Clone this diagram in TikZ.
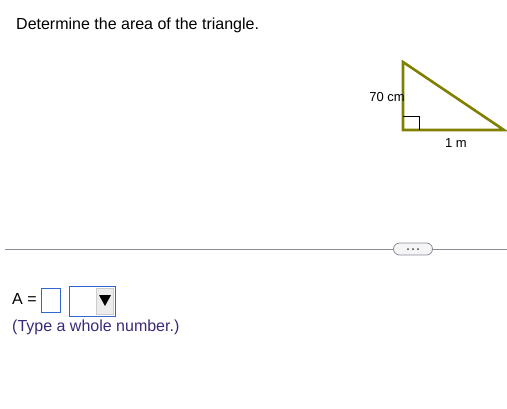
\documentclass[tikz,border=0pt]{standalone}
\usepackage{fontspec}
\setmainfont{Liberation Sans}
\definecolor{olivegreen}{RGB}{128,128,0}
\definecolor{rulegray}{RGB}{138,141,153}
\definecolor{boxblue}{RGB}{51,102,204}
\definecolor{hintpurple}{RGB}{60,40,120}
\begin{document}
\begin{tikzpicture}[x=1pt,y=-1pt,
    every node/.style={inner sep=0pt, font=\fontsize{16}{19}\selectfont},
    side/.style={draw=olivegreen, line width=2.6pt, line join=miter},
    answerbox/.style={draw=boxblue, line width=0.8pt, fill=white}]
            \useasboundingbox (0,0) rectangle (507,408);

            \node[anchor=west] (title) at (16,25) {Determine the area of the triangle.};

            \coordinate (top) at (403,62);
            \coordinate (corner) at (403,130);
            \coordinate (right) at (504,130);
            \draw[side] (top) -- (corner) -- (right) -- cycle;
            \draw[line width=0.8pt] ([yshift=14pt]corner) -| ([xshift=16pt]corner);
            \node[anchor=east, font=\fontsize{13}{15}\selectfont] (height) at (405,97) {70 cm};
            \node[font=\fontsize{13}{15}\selectfont] (base) at (456,143) {1 m};

            \coordinate (rulestart) at (5,249);
            \coordinate (ruleend) at (507,249);
            \node[draw=rulegray, fill=gray!8, rounded corners=6pt, line width=0.8pt,
                  minimum width=39pt, minimum height=12pt] (more) at (413,249) {};
            \draw[rulegray, line width=0.8pt] (rulestart) -- (more.west);
            \draw[rulegray, line width=0.8pt] (more.east) -- (ruleend);
            \foreach \dx in {-5,0,5}
                \fill[black!75] ([xshift=\dx pt]more.center) circle (1pt);

            \node[anchor=west] (alabel) at (12,299) {A =};
            \node[answerbox, minimum width=19pt, minimum height=24pt] (answer) at (51,300) {};
            \node[answerbox, minimum width=46pt, minimum height=30pt] (units) at (92,301) {};
            \node[fill=gray!15, draw=gray!40, minimum width=17pt, minimum height=26pt] (arrowbtn) at (105,301) {};
            \fill (99,295) -- (111,295) -- (105,306) -- cycle;

            \node[anchor=west, text=hintpurple] (hint) at (12,327) {(Type a whole number.)};
        \end{tikzpicture}
\end{document}
